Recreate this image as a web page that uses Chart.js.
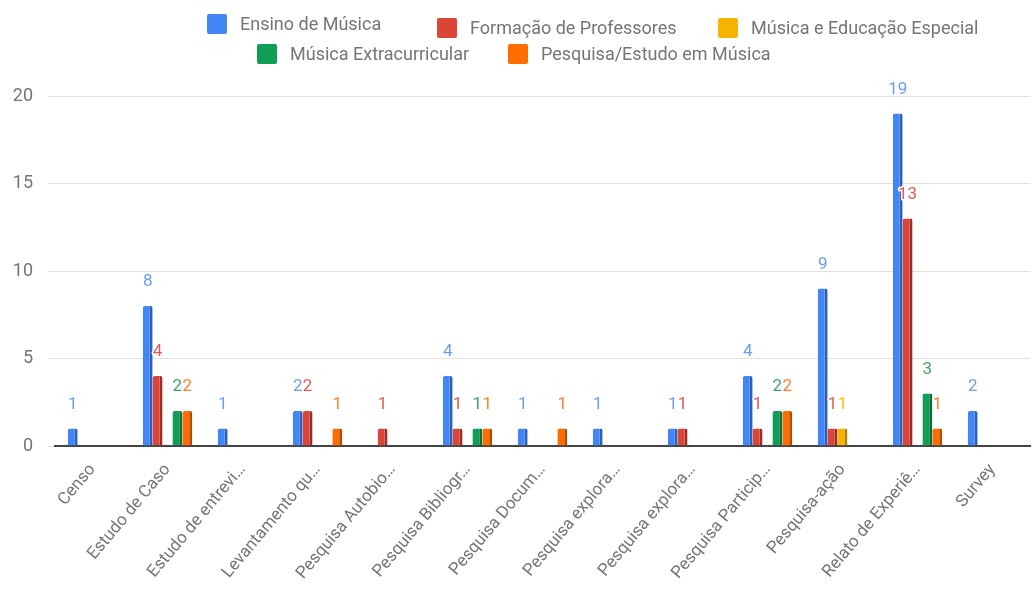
<!DOCTYPE html>
<html lang="pt">

<head>
    <meta charset="UTF-8">
    <title>Chart</title>
    <style>
        body { margin: 0; background: #fff; font-family: Roboto, sans-serif; }
        #wrap { position: relative; width: 1032px; height: 589px; }
        #legend { position: absolute; left: 0; top: 0; width: 1032px; height: 70px; }
        .item { position: absolute; display: flex; align-items: center; font-size: 18px; color: #757575; white-space: nowrap; }
        .box { width: 20px; height: 20px; border-radius: 2px; margin-right: 13px; }
    </style>
</head>

<body>
    <div id="wrap">
        <canvas id="chart" width="1032" height="589"></canvas>
        <div id="legend"></div>
    </div>

    <script src="https://cdn.jsdelivr.net/npm/chart.js@4.4.1/dist/chart.umd.min.js"></script>
    <script>
        // категории (подписи по оси X)
        const categories = [
            'Censo', 'Estudo de Caso', 'Estudo de entrevi…', 'Levantamento qu…',
            'Pesquisa Autobio…', 'Pesquisa Bibliogr…', 'Pesquisa Docum…', 'Pesquisa explora…',
            'Pesquisa explora…', 'Pesquisa Particip…', 'Pesquisa-ação', 'Relato de Experiê…', 'Survey'
        ];

        // серии
        const seriesNames = [
            'Ensino de Música', 'Formação de Professores', 'Música e Educação Especial',
            'Música Extracurricular', 'Pesquisa/Estudo em Música'
        ];
        const ensino     = [1, 8, 1, 2, null, 4, 1, 1, 1, 4, 9, 19, 2];
        const formacao   = [null, 4, null, 2, 1, 1, null, null, 1, 1, 1, 13, null];
        const especial   = [null, null, null, null, null, null, null, null, null, null, 1, null, null];
        const extracurr  = [null, 2, null, null, null, 1, null, null, null, 2, null, 3, null];
        const pesquisa   = [null, 2, null, 1, null, 1, 1, null, null, 2, null, 1, null];

        const yTicks = [0, 5, 10, 15, 20];

        const colors     = ['#4285f4', '#db4437', '#f4b400', '#0f9d58', '#ff6d01'];
        const edgeColors = ['#2b5fb8', '#9c2f25', '#b08300', '#0a6e3e', '#b34c00'];
        const labelColors = ['#6a9ef5', '#e25b52', '#f4c20d', '#3aa76d', '#ff7f26'];

        const seriesData = [ensino, formacao, especial, extracurr, pesquisa];

        // легенда в HTML (как у Google Charts: две строки)
        const legendPos = [[207, 13], [437, 17], [718, 17], [257, 43], [508, 43]];
        const legend = document.getElementById('legend');
        seriesNames.forEach((name, i) => {
            const item = document.createElement('div');
            item.className = 'item';
            item.style.left = legendPos[i][0] + 'px';
            item.style.top = legendPos[i][1] + 'px';
            item.innerHTML = '<span class="box" style="background:' + colors[i] + '"></span><span>' + name + '</span>';
            legend.appendChild(item);
        });

        // подписи значений над столбцами
        const valueLabels = {
            id: 'valueLabels',
            afterDatasetsDraw(chart) {
                const ctx = chart.ctx;
                ctx.save();
                ctx.font = '17px Roboto';
                ctx.textAlign = 'center';
                ctx.textBaseline = 'alphabetic';
                ctx.lineJoin = 'round';
                chart.data.datasets.forEach((ds, i) => {
                    const meta = chart.getDatasetMeta(i);
                    meta.data.forEach((bar, j) => {
                        const v = ds.data[j];
                        if (!v) return;
                        const y = bar.y - 20;
                        ctx.strokeStyle = '#fff';
                        ctx.lineWidth = 3;
                        ctx.strokeText(String(v), bar.x, y);
                        ctx.fillStyle = labelColors[i];
                        ctx.fillText(String(v), bar.x, y);
                    });
                });
                ctx.restore();
            }
        };

        const ctx = document.getElementById('chart').getContext('2d');
        const myChart = new Chart(ctx, {
            type: 'bar',
            data: {
                labels: categories,
                datasets: seriesNames.map((name, i) => ({
                    label: name,
                    data: seriesData[i],
                    backgroundColor: colors[i],
                    borderColor: edgeColors[i],
                    borderWidth: { right: 3, top: 0, left: 0, bottom: 0 },
                    borderSkipped: false,
                    borderRadius: { topLeft: 2, topRight: 2 },
                    barPercentage: 1.0,
                    categoryPercentage: 0.66
                }))
            },
            options: {
                responsive: false,
                animation: false,
                layout: { padding: { top: 96, right: 2, left: 0, bottom: 0 } },
                plugins: {
                    legend: { display: false },
                    tooltip: { enabled: false }
                },
                scales: {
                    x: {
                        afterFit(scale) { scale.height = 143; },
                        grid: { display: false },
                        border: { color: '#444', width: 2 },
                        ticks: {
                            color: '#757575',
                            font: { family: 'Roboto', size: 17 },
                            maxRotation: 50,
                            minRotation: 50,
                            autoSkip: false,
                            padding: 6
                        }
                    },
                    y: {
                        min: 0,
                        max: 20,
                        afterBuildTicks(scale) { scale.ticks = yTicks.map(v => ({ value: v })); },
                        afterFit(scale) { scale.width = 55; },
                        // короткие засечки продолжают линии сетки влево до x≈48
                        grid: { color: '#e0e0e0', drawTicks: true, tickLength: 7 },
                        border: { display: false },
                        ticks: {
                            color: '#757575',
                            font: { family: 'Roboto', size: 18 },
                            padding: 15
                        }
                    }
                }
            },
            plugins: [valueLabels]
        });
    </script>
</body>

</html>
